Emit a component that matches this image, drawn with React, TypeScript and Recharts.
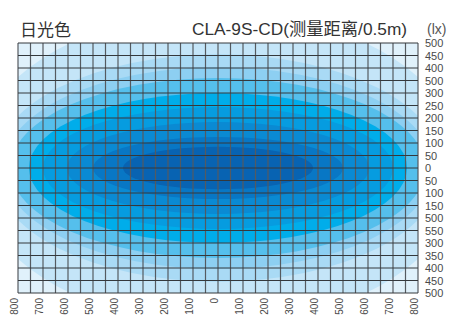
import React from 'react';
import { ComposedChart, XAxis, YAxis, ReferenceArea, ReferenceLine } from 'recharts';

// x ticks (mm) and their printed labels
const xTicks = [-800, -700, -600, -500, -400, -300, -200, -100, 0, 100, 200, 300, 400, 500, 600, 700, 800];
const xTickLabels = ['800', '700', '600', '500', '400', '300', '200', '100', '0', '100', '200', '300', '400', '500', '600', '700', '800'];

// y ticks top to bottom, labels exactly as printed on the original
const yTicks = [500, 450, 400, 350, 300, 250, 200, 150, 100, 50, 0, -50, -100, -150, -200, -250, -300, -350, -400, -450, -500];
const yTickLabels = ['500', '450', '400', '500', '300', '250', '200', '150', '100', '50', '0', '50', '100', '150', '500', '550', '300', '350', '400', '450', '500'];

// grid every 50 mm
const xGrid = [
  -800, -750, -700, -650, -600, -550, -500, -450, -400, -350, -300, -250, -200, -150, -100, -50, 0,
  50, 100, 150, 200, 250, 300, 350, 400, 450, 500, 550, 600, 650, 700, 750, 800,
];
const yGrid = yTicks;

// illuminance contour bands, outermost first (half width / half height in mm)
const bandHalfWidth = [983, 900, 860, 830, 756, 700, 604, 500, 380];
const bandHalfHeight = [626, 455, 404, 360, 300, 244, 184, 124, 85];
const bandColors = ['#c4e5f8', '#a9daf5', '#8dcff2', '#55bfec', '#00adea', '#069ce0', '#0a8ad3', '#0877c5', '#0863b2'];
const backgroundColor = '#e0f1fb';

const EllipseShape = (props: any) => {
  const { x, y, width, height, fill, clipPath } = props;
  return (
    <ellipse
      cx={x + width / 2}
      cy={y + height / 2}
      rx={Math.abs(width / 2)}
      ry={Math.abs(height / 2)}
      fill={fill}
      clipPath={clipPath}
    />
  );
};

const XTick = (props: any) => {
  const { x, y, index } = props;
  return (
    <text
      x={x}
      y={y}
      transform={`rotate(-90, ${x}, ${y})`}
      textAnchor="end"
      fontSize={10}
      fill="#4a4a4a"
      fontFamily="'Liberation Sans', Arial, sans-serif"
    >
      {xTickLabels[index]}
    </text>
  );
};

const YTick = (props: any) => {
  const { x, y, payload } = props;
  const i = yTicks.indexOf(payload.value);
  return (
    <text
      x={x}
      y={y}
      dy={4}
      textAnchor="start"
      fontSize={11}
      fill="#4a4a4a"
      fontFamily="'Liberation Sans', Arial, sans-serif"
    >
      {yTickLabels[i]}
    </text>
  );
};

export default function App() {
  return (
    <div style={{ position: 'absolute', left: 0, top: 0, width: 452, height: 315, background: '#fff' }}>
      <div
        style={{
          position: 'absolute',
          left: 20,
          top: 19,
          fontSize: 17,
          lineHeight: '20px',
          color: '#333',
          fontFamily: "'Noto Sans CJK SC', sans-serif",
        }}
      >
        日光色
      </div>
      <div
        style={{
          position: 'absolute',
          left: 192,
          top: 19,
          fontSize: 17.3,
          lineHeight: '20px',
          color: '#333',
          whiteSpace: 'nowrap',
          fontFamily: "'Liberation Sans', 'Noto Sans CJK SC', sans-serif",
        }}
      >
        CLA-9S-CD(测量距离/0.5m)
      </div>
      <div
        style={{
          position: 'absolute',
          left: 427,
          top: 21,
          fontSize: 14,
          lineHeight: '16px',
          color: '#555',
          fontFamily: "'Liberation Sans', sans-serif",
        }}
      >
        (lx)
      </div>
      <ComposedChart width={452} height={315} margin={{ top: 43, right: 0, bottom: 0, left: 18 }}>
        <XAxis
          type="number"
          dataKey="x"
          domain={[-800, 800]}
          ticks={xTicks}
          allowDataOverflow
          interval={0}
          height={22}
          axisLine={false}
          tickLine={false}
          tickSize={0}
          tickMargin={5}
          tick={<XTick />}
        />
        <YAxis
          type="number"
          orientation="right"
          domain={[-500, 500]}
          ticks={yTicks}
          allowDataOverflow
          interval={0}
          width={34}
          axisLine={false}
          tickLine={false}
          tickSize={0}
          tickMargin={7}
          tick={<YTick />}
        />
        <ReferenceArea x1={-800} x2={800} y1={-500} y2={500} fill={backgroundColor} fillOpacity={1} ifOverflow="hidden" />
        {bandColors.map((c, i) => (
          <ReferenceArea
            key={'band' + i}
            x1={-bandHalfWidth[i]}
            x2={bandHalfWidth[i]}
            y1={-bandHalfHeight[i]}
            y2={bandHalfHeight[i]}
            fill={c}
            fillOpacity={1}
            ifOverflow="hidden"
            shape={<EllipseShape />}
          />
        ))}
        {xGrid.map((v) => (
          <ReferenceLine key={'vx' + v} x={v} stroke="#555a60" strokeWidth={1.2} />
        ))}
        {yGrid.map((v) => (
          <ReferenceLine key={'hy' + v} y={v} stroke="#34383c" strokeWidth={1} />
        ))}
      </ComposedChart>
    </div>
  );
}
